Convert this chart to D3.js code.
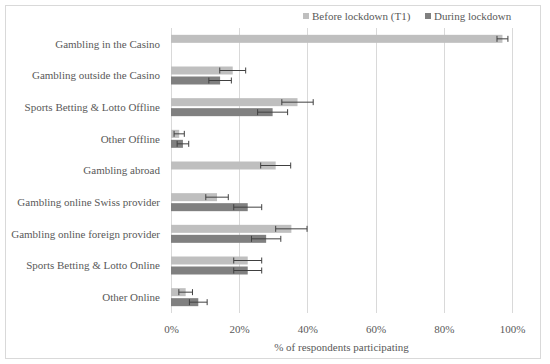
<!DOCTYPE html>
<html>
<head>
<meta charset="utf-8">
<script src="https://cdn.jsdelivr.net/npm/d3@7"></script>
<style>
  body { margin: 0; background: #fff; }
  text { font-family: "Liberation Serif", "DejaVu Serif", serif; fill: #595959; }
</style>
</head>
<body>
<div id="chart"></div>
<script>
// categories, top to bottom
var categories = [
  "Gambling in the Casino",
  "Gambling outside the Casino",
  "Sports Betting & Lotto Offline",
  "Other Offline",
  "Gambling abroad",
  "Gambling online Swiss provider",
  "Gambling online foreign provider",
  "Sports Betting & Lotto Online",
  "Other Online"
];
var seriesNames = ["Before lockdown (T1)", "During lockdown"];

// % values (null = not asked)
var beforeValues = [97.2, 18.1, 37.1, 2.4, 30.7, 13.5, 35.3, 22.5, 4.3];
var duringValues = [null, 14.4, 29.8, 3.5, null, 22.5, 27.9, 22.5, 8.0];
// half-width of the error bars, in % points
var beforeErr = [1.6, 3.8, 4.6, 1.5, 4.4, 3.3, 4.6, 4.1, 2.0];
var duringErr = [null, 3.3, 4.4, 1.7, null, 4.1, 4.3, 4.1, 2.6];

var xTicks = [0, 20, 40, 60, 80, 100];
var colors = ["#bfbfbf", "#808080"];

// set the dimensions and margins of the graph
var margin = {top: 28, right: 38, bottom: 51, left: 171},
    width = 512 - margin.left,
    height = 313 - margin.top;

var svg = d3.select("#chart")
  .append("svg")
    .attr("width", 550)
    .attr("height", 364);

// outer frame
svg.append("rect")
  .attr("x", 5.5).attr("y", 5.5)
  .attr("width", 535).attr("height", 353)
  .attr("fill", "none")
  .attr("stroke", "#d9d9d9");

var g = svg.append("g")
  .attr("transform", "translate(" + margin.left + "," + margin.top + ")");

var x = d3.scaleLinear().domain([0, 100]).range([0, width]);
var y = d3.scaleBand().domain(categories).range([0, height]);

// gridlines
g.selectAll(".grid")
  .data(xTicks)
  .enter().append("line")
    .attr("x1", function(d) { return Math.round(x(d)) + 0.5; })
    .attr("x2", function(d) { return Math.round(x(d)) + 0.5; })
    .attr("y1", 0).attr("y2", height)
    .attr("stroke", "#d9d9d9");

// x axis labels
var xAxis = g.append("g")
  .attr("transform", "translate(0," + height + ")")
  .call(d3.axisBottom(x).tickValues(xTicks).tickSize(0).tickPadding(12)
    .tickFormat(function(d) { return d + "%"; }));
xAxis.select(".domain").remove();
xAxis.selectAll("text")
  .style("font-family", "'Liberation Serif', serif")
  .style("font-size", "11px")
  .attr("fill", "#595959");

// category labels
g.selectAll(".cat")
  .data(categories)
  .enter().append("text")
    .attr("x", -11)
    .attr("y", function(d) { return y(d) + y.bandwidth() / 2; })
    .attr("dy", "0.35em")
    .attr("text-anchor", "end")
    .style("font-size", "11px")
    .text(function(d) { return d; });

var barH = 8;
var series = [
  {vals: beforeValues, errs: beforeErr, off: -9, color: colors[0]},
  {vals: duringValues, errs: duringErr, off: 1, color: colors[1]}
];

series.forEach(function(s) {
  var rows = categories.map(function(c, i) {
    return {cat: c, v: s.vals[i], e: s.errs[i]};
  }).filter(function(d) { return d.v != null; });

  g.selectAll(null)
    .data(rows)
    .enter().append("rect")
      .attr("x", 0)
      .attr("y", function(d) { return y(d.cat) + y.bandwidth() / 2 + s.off; })
      .attr("width", function(d) { return x(d.v); })
      .attr("height", barH)
      .attr("fill", s.color);

  // error bars
  var eb = g.selectAll(null)
    .data(rows)
    .enter().append("g")
      .attr("stroke", "#404040")
      .attr("stroke-width", 1);
  eb.append("line")
    .attr("x1", function(d) { return x(d.v - d.e); })
    .attr("x2", function(d) { return x(d.v + d.e); })
    .attr("y1", function(d) { return y(d.cat) + y.bandwidth() / 2 + s.off + barH / 2; })
    .attr("y2", function(d) { return y(d.cat) + y.bandwidth() / 2 + s.off + barH / 2; });
  [-1, 1].forEach(function(sign) {
    eb.append("line")
      .attr("x1", function(d) { return x(d.v + sign * d.e); })
      .attr("x2", function(d) { return x(d.v + sign * d.e); })
      .attr("y1", function(d) { return y(d.cat) + y.bandwidth() / 2 + s.off + 1; })
      .attr("y2", function(d) { return y(d.cat) + y.bandwidth() / 2 + s.off + barH - 1; });
  });
});

// axis title
svg.append("text")
  .attr("x", margin.left + width / 2)
  .attr("y", 351)
  .attr("text-anchor", "middle")
  .style("font-size", "11px")
  .text("% of respondents participating");

// legend
var legendX = [303, 425];
var legend = svg.selectAll(".legend")
  .data(seriesNames)
  .enter().append("g")
    .attr("transform", function(d, i) { return "translate(" + legendX[i] + ",17)"; });
legend.append("rect")
  .attr("x", 0).attr("y", -4)
  .attr("width", 6).attr("height", 6)
  .attr("fill", function(d, i) { return colors[i]; });
legend.append("text")
  .attr("x", 9)
  .attr("dy", "0.3em")
  .style("font-size", "11px")
  .text(function(d) { return d; });
</script>
</body>
</html>
